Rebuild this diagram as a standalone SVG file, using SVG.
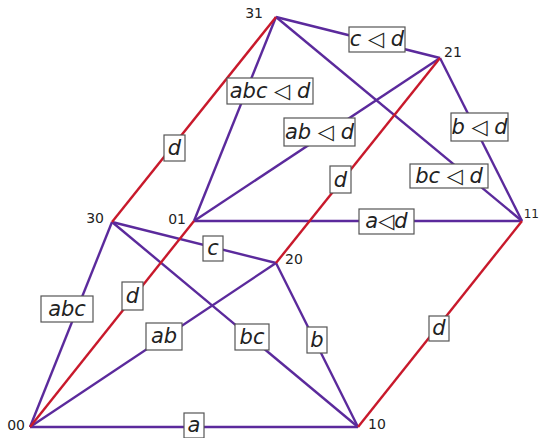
<svg xmlns="http://www.w3.org/2000/svg" width="540" height="438" viewBox="0 0 540 438">
<style>
.p{stroke:#5b2a9c;stroke-width:2.4;fill:none}
.r{stroke:#c8192b;stroke-width:2.4;fill:none}
.box{fill:#fff;stroke:#555;stroke-width:1.2}
.lt{font-family:"DejaVu Sans",sans-serif;font-style:italic;font-size:21px;fill:#222;text-anchor:middle;dominant-baseline:central}
.nl{font-family:"DejaVu Sans",sans-serif;font-size:14px;fill:#222;dominant-baseline:central}
</style>
<rect width="540" height="438" fill="#fff"/>
<g id="connectors">
<line class="p" x1="30" y1="427" x2="358" y2="427"/>
<line class="p" x1="30" y1="427" x2="112" y2="222"/>
<line class="p" x1="30" y1="427" x2="276" y2="263"/>
<line class="p" x1="112" y1="222" x2="358" y2="427"/>
<line class="p" x1="112" y1="222" x2="276" y2="263"/>
<line class="p" x1="276" y1="263" x2="358" y2="427"/>
<line class="p" x1="194" y1="221" x2="522" y2="221"/>
<line class="p" x1="194" y1="221" x2="276" y2="17"/>
<line class="p" x1="194" y1="221" x2="440" y2="58"/>
<line class="p" x1="276" y1="17" x2="522" y2="221"/>
<line class="p" x1="276" y1="17" x2="440" y2="58"/>
<line class="p" x1="440" y1="58" x2="522" y2="221"/>
<line class="r" x1="30" y1="427" x2="194" y2="221"/>
<line class="r" x1="112" y1="222" x2="276" y2="17"/>
<line class="r" x1="276" y1="263" x2="440" y2="58"/>
<line class="r" x1="358" y1="427" x2="522" y2="221"/>
<g id="edge-labels">
<rect class="box" x="184" y="413" width="20" height="25"/><text class="lt" x="194" y="425">a</text>
<rect class="box" x="41" y="296" width="52" height="26"/><text class="lt" x="67" y="309">abc</text>
<rect class="box" x="122" y="282" width="21" height="28"/><text class="lt" x="132.5" y="296">d</text>
<rect class="box" x="146" y="323" width="36" height="27"/><text class="lt" x="164" y="336">ab</text>
<rect class="box" x="235" y="324" width="34" height="26"/><text class="lt" x="252" y="337">bc</text>
<rect class="box" x="307" y="327" width="20" height="26"/><text class="lt" x="317" y="340">b</text>
<rect class="box" x="203" y="236" width="20" height="25"/><text class="lt" x="213" y="248">c</text>
<rect class="box" x="429" y="316" width="20" height="25"/><text class="lt" x="439" y="328">d</text>
<rect class="box" x="359" y="209" width="55" height="25"/><text class="lt" x="386.5" y="221">a◁d</text>
<rect class="box" x="330" y="166" width="21" height="27"/><text class="lt" x="340.5" y="180">d</text>
<rect class="box" x="410" y="164" width="78" height="24"/><text class="lt" x="449" y="176">bc ◁ d</text>
<rect class="box" x="284" y="118" width="71" height="28"/><text class="lt" x="319.5" y="132">ab ◁ d</text>
<rect class="box" x="451" y="113" width="57" height="28"/><text class="lt" x="479.5" y="127">b ◁ d</text>
<rect class="box" x="227" y="78" width="86" height="26"/><text class="lt" x="270" y="91">abc ◁ d</text>
<rect class="box" x="164" y="135" width="21" height="26"/><text class="lt" x="174.5" y="148">d</text>
<rect class="box" x="349" y="27" width="56" height="25"/><text class="lt" x="377" y="39">c ◁ d</text>
</g>
</g>
<g id="n00"><text class="nl" x="25" y="425" text-anchor="end">00</text></g>
<g id="n10"><text class="nl" x="368" y="424">10</text></g>
<g id="n30"><text class="nl" x="104" y="218" text-anchor="end">30</text></g>
<g id="n01"><text class="nl" x="186" y="219" text-anchor="end">01</text></g>
<g id="n20"><text class="nl" x="285" y="259">20</text></g>
<g id="n11"><text class="nl" x="539" y="214" text-anchor="end" style="font-size:12px">11</text></g>
<g id="n31"><text class="nl" x="263" y="13" text-anchor="end">31</text></g>
<g id="n21"><text class="nl" x="444" y="52">21</text></g>
</svg>
